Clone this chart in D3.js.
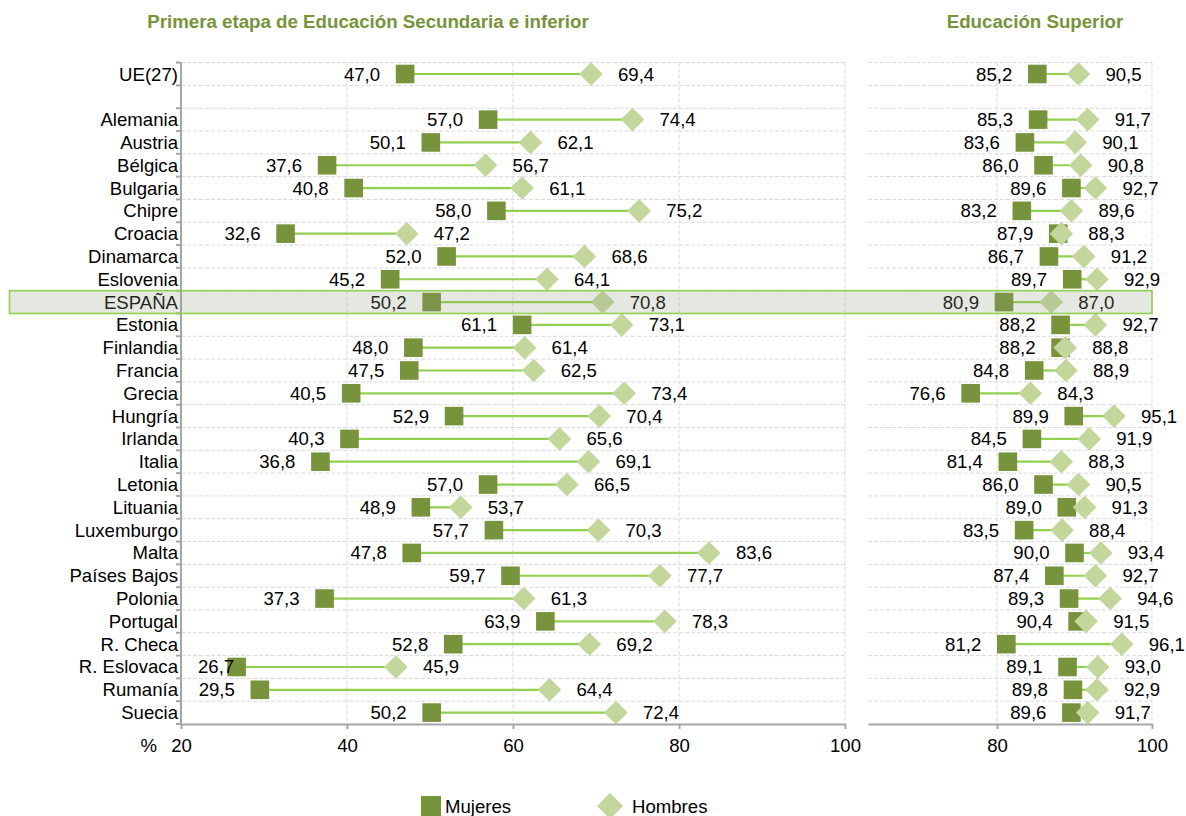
<!DOCTYPE html>
<html><head><meta charset="utf-8">
<script src="https://cdn.jsdelivr.net/npm/d3@7/dist/d3.min.js"></script>
<style>
body{margin:0;background:#fff;}
text{font-family:"Liberation Sans",Arial,sans-serif;}
</style></head>
<body><svg id="c" width="1186" height="816"></svg>
<script>
const categories = ["UE(27)", " ", "Alemania","Austria","Bélgica","Bulgaria","Chipre","Croacia","Dinamarca","Eslovenia","ESPAÑA","Estonia","Finlandia","Francia","Grecia","Hungría","Irlanda","Italia","Letonia","Lituania","Luxemburgo","Malta","Países Bajos","Polonia","Portugal","R. Checa","R. Eslovaca","Rumanía","Suecia"];
const secMujeres = [47.0,null,57.0,50.1,37.6,40.8,58.0,32.6,52.0,45.2,50.2,61.1,48.0,47.5,40.5,52.9,40.3,36.8,57.0,48.9,57.7,47.8,59.7,37.3,63.9,52.8,26.7,29.5,50.2];
const secHombres = [69.4,null,74.4,62.1,56.7,61.1,75.2,47.2,68.6,64.1,70.8,73.1,61.4,62.5,73.4,70.4,65.6,69.1,66.5,53.7,70.3,83.6,77.7,61.3,78.3,69.2,45.9,64.4,72.4];
const supMujeres = [85.2,null,85.3,83.6,86.0,89.6,83.2,87.9,86.7,89.7,80.9,88.2,88.2,84.8,76.6,89.9,84.5,81.4,86.0,89.0,83.5,90.0,87.4,89.3,90.4,81.2,89.1,89.8,89.6];
const supHombres = [90.5,null,91.7,90.1,90.8,92.7,89.6,88.3,91.2,92.9,87.0,92.7,88.8,88.9,84.3,95.1,91.9,88.3,90.5,91.3,88.4,93.4,92.7,94.6,91.5,96.1,93.0,92.9,91.7];
const leftTicks = [20,40,60,80,100];
const rightTicks = [80,100];
const titles = ["Primera etapa de Educación Secundaria e inferior","Educación Superior"];
const legendLabels = ["Mujeres","Hombres"];
const highlight = "ESPAÑA";

const C_SQ = "#77933C", C_DI = "#C3D69B", C_LN = "#92D050", C_GRID = "#D9D9D9", C_AX = "#A6A6A6";
const FS = 18.6;
const svg = d3.select("#c");
const y = d3.scaleBand().domain(categories).range([62.6, 724]).padding(0);
const xL = d3.scaleLinear().domain([20,100]).range([181,845]);
const xR = d3.scaleLinear().domain([63.35,100]).range([868,1152]);
const bw = y.bandwidth();

function panel(x, ticks, mVals, hVals, showLeftAxis, minLabelX) {
  const g = svg.append("g");
  const [x0, x1] = x.range();
  categories.forEach((c,i)=>{
    g.append("line").attr("x1",x0).attr("x2",x1).attr("y1",y(c)).attr("y2",y(c))
      .attr("stroke",C_GRID).attr("stroke-dasharray","4,2").attr("stroke-width",1);
  });
  ticks.forEach(t=>{
    if (x(t) <= x0 + 1) return;
    g.append("line").attr("x1",x(t)).attr("x2",x(t)).attr("y1",y.range()[0]).attr("y2",y.range()[1])
      .attr("stroke",C_GRID).attr("stroke-dasharray","4,2").attr("stroke-width",1);
  });
  const ax = g.append("g").attr("transform",`translate(0,${y.range()[1]})`)
    .call(d3.axisBottom(x).tickValues(ticks).tickSize(5).tickPadding(10).tickSizeOuter(0));
  ax.select(".domain").attr("stroke",C_AX).attr("stroke-width",2);
  ax.selectAll(".tick line").attr("stroke",C_AX).attr("stroke-width",2);
  ax.selectAll(".tick text").attr("font-size",FS).attr("fill","#000").attr("font-family","Liberation Sans, Arial, sans-serif");
  if (showLeftAxis) {
    g.append("line").attr("x1",x0).attr("x2",x0).attr("y1",y.range()[0]).attr("y2",y.range()[1])
      .attr("stroke",C_AX).attr("stroke-width",2);
    const bounds = categories.map(c=>y(c)).concat([y.range()[1]]);
    bounds.forEach(b=>{
      g.append("line").attr("x1",x0-5).attr("x2",x0).attr("y1",b).attr("y2",b)
        .attr("stroke",C_AX).attr("stroke-width",2);
    });
    categories.forEach(c=>{
      g.append("text").attr("x",x0-3).attr("y",y(c)+bw/2).attr("dy","0.35em")
        .attr("text-anchor","end").attr("font-size",FS).attr("fill","#000").text(c.trim());
    });
  }
  const data = categories.map((c,i)=>({c, m:mVals[i], h:hVals[i]})).filter(d=>d.m!=null);
  g.selectAll(".ln").data(data).join("line")
    .attr("x1",d=>x(d.m)).attr("x2",d=>x(d.h)).attr("y1",d=>y(d.c)+bw/2).attr("y2",d=>y(d.c)+bw/2)
    .attr("stroke",C_LN).attr("stroke-width",2.2);
  g.selectAll(".sq").data(data).join("rect")
    .attr("x",d=>x(d.m)-9.3).attr("y",d=>y(d.c)+bw/2-9.3).attr("width",18.6).attr("height",18.6)
    .attr("fill",C_SQ);
  g.selectAll(".di").data(data).join("path")
    .attr("d",d=>{const cx=x(d.h), cy=y(d.c)+bw/2, r=11.8; return `M${cx},${cy-r}L${cx+r},${cy}L${cx},${cy+r}L${cx-r},${cy}Z`;})
    .attr("fill",C_DI);
  const fmt = v => v.toFixed(1).replace(".",",");
  g.selectAll(".lm").data(data).join("text")
    .attr("x",d=>x(d.m)-25).attr("y",d=>y(d.c)+bw/2).attr("dy","0.35em").attr("text-anchor","end")
    .attr("font-size",FS).attr("fill","#000").text(d=>fmt(d.m))
    .each(function(d){
      const w = this.getComputedTextLength();
      const xr = x(d.m)-25;
      if (xr - w < minLabelX) d3.select(this).attr("x", minLabelX + w);
    });
  g.selectAll(".lh").data(data).join("text")
    .attr("x",d=>x(d.h)+27).attr("y",d=>y(d.c)+bw/2).attr("dy","0.35em").attr("text-anchor","start")
    .attr("font-size",FS).attr("fill","#000").text(d=>fmt(d.h));
}
panel(xL, leftTicks, secMujeres, secHombres, true, 198);
panel(xR, rightTicks, supMujeres, supHombres, false, 870);

svg.append("text").attr("x",157).attr("y",y.range()[1]+15).attr("dy","0.71em").attr("text-anchor","end")
  .attr("font-size",FS).attr("fill","#000").text("%");

svg.append("rect").attr("x",9.5).attr("y",y(highlight)).attr("width",1152-9.5).attr("height",bw)
  .attr("fill","rgb(147,159,127)").attr("fill-opacity",0.24).attr("stroke",C_LN).attr("stroke-width",1.6);

svg.append("text").attr("x",368).attr("y",28).attr("text-anchor","middle").attr("font-size",18.7)
  .attr("font-weight","bold").attr("fill",C_SQ).text(titles[0]);
svg.append("text").attr("x",1035).attr("y",28).attr("text-anchor","middle").attr("font-size",18.7)
  .attr("font-weight","bold").attr("fill",C_SQ).text(titles[1]);

const lg = svg.append("g");
lg.append("rect").attr("x",421).attr("y",796).attr("width",20).attr("height",20).attr("fill",C_SQ);
lg.append("text").attr("x",445).attr("y",806).attr("dy","0.35em").attr("font-size",FS).text(legendLabels[0]);
lg.append("path").attr("d","M610,793L623,806L610,819L597,806Z").attr("fill",C_DI);
lg.append("text").attr("x",632).attr("y",806).attr("dy","0.35em").attr("font-size",FS).text(legendLabels[1]);
</script></body></html>
